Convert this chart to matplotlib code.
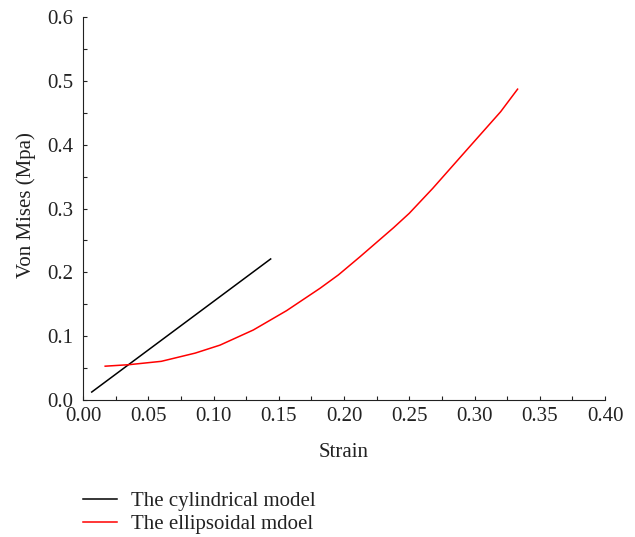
import matplotlib
matplotlib.use("Agg")
import matplotlib.pyplot as plt
from matplotlib.ticker import MultipleLocator, FormatStrFormatter

plt.rcParams['font.family'] = ['Liberation Serif', 'DejaVu Serif']

cyl_x = [0.0067, 0.1438]
cyl_y = [0.0125, 0.221]

ell_x = [0.017, 0.035, 0.060, 0.086, 0.105, 0.1305, 0.156, 0.1816, 0.1957,
         0.212, 0.238, 0.250, 0.268, 0.294, 0.320, 0.333]
ell_y = [0.053, 0.0553, 0.0606, 0.0735, 0.086, 0.1097, 0.140, 0.175, 0.196,
         0.224, 0.270, 0.2925, 0.3316, 0.3917, 0.4516, 0.487]

fig = plt.figure(figsize=(6.35, 5.37), dpi=100)
ax = fig.add_axes([0.1307, 0.2551, 0.8221, 0.7132])

l1, = ax.plot(cyl_x, cyl_y, color='black', lw=1.1, label='The cylindrical model')
l2, = ax.plot(ell_x, ell_y, color='red', lw=1.1, label='The ellipsoidal mdoel',
              solid_joinstyle='round')

ax.set_xlim(0, 0.40)
ax.set_ylim(0, 0.6)
ax.xaxis.set_major_locator(MultipleLocator(0.05))
ax.xaxis.set_minor_locator(MultipleLocator(0.025))
ax.yaxis.set_major_locator(MultipleLocator(0.1))
ax.yaxis.set_minor_locator(MultipleLocator(0.05))
ax.xaxis.set_major_formatter(FormatStrFormatter('%.2f'))
ax.yaxis.set_major_formatter(FormatStrFormatter('%.1f'))
for s in ['top', 'right']:
    ax.spines[s].set_visible(False)
for s in ['left', 'bottom']:
    ax.spines[s].set_color('#222222')
ax.tick_params(which='both', direction='in', length=3, width=0.8, colors='#222222',
               labelsize=15, labelcolor='#222222')
ax.tick_params(axis='y', pad=7)
ax.tick_params(axis='x', pad=5)
ax.set_xlabel('Strain', fontsize=15, color='#222222', labelpad=12)
ax.set_ylabel('Von Mises (Mpa)', fontsize=15, color='#222222')
ax.yaxis.set_label_coords(-0.09, 0.51)

fig.legend(handles=[l1, l2], loc='upper left', bbox_to_anchor=(0.118, 0.1),
           frameon=False, fontsize=15, handlelength=1.6, handletextpad=0.7,
           labelspacing=0.15, borderaxespad=0, labelcolor='#222222')

fig.savefig('out.png', dpi=100, facecolor='white')
